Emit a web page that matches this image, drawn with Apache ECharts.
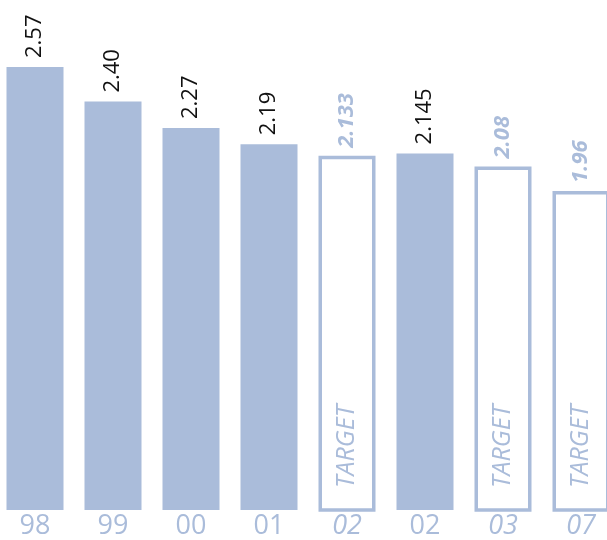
<!DOCTYPE html>
<html>
<head>
<meta charset="utf-8">
<script src="https://cdn.jsdelivr.net/npm/echarts@6/dist/echarts.min.js"></script>
<style>
  html, body { margin: 0; padding: 0; background: #fff; }
  #chart { width: 607px; height: 540px; }
</style>
</head>
<body>
<div id="chart"></div>
<script>
// Year labels along the bottom; "02" appears twice (target and actual)
const categories = ['98', '99', '00', '01', '02', '02', '03', '07'];
// Actual values (null where the column is a target)
const actualValues = [2.57, 2.40, 2.27, 2.19, null, 2.145, null, null];
// Target values (null where the column is an actual)
const targetValues = [null, null, null, null, 2.133, null, 2.08, 1.96];
// Printed value text, kept as written
const valueText = ['2.57', '2.40', '2.27', '2.19', '2.133', '2.145', '2.08', '1.96'];
const isTarget = [false, false, false, false, true, false, true, true];

const BLUE = '#aabcda';
const FONT = '"Open Sans", "Noto Sans", sans-serif';

const chart = echarts.init(document.getElementById('chart'), null, { renderer: 'canvas' });

chart.setOption({
  animation: false,
  // the last column runs past the right edge
  grid: { left: -4, width: 624, top: 0, height: 510, containLabel: false, outerBoundsMode: 'none' },
  xAxis: {
    type: 'category',
    data: categories,
    axisLine: { show: false },
    axisTick: { show: false },
    axisLabel: {
      margin: 3,
      formatter: (v, i) => (isTarget[i] ? '{t|' + v + '}' : '{a|' + v + '}'),
      rich: {
        a: { fontFamily: FONT, fontSize: 27, color: BLUE },
        t: { fontFamily: FONT, fontSize: 27, color: BLUE, fontStyle: 'italic' }
      }
    }
  },
  yAxis: {
    type: 'value',
    min: 0.39,
    max: 2.9,
    show: false,
    splitLine: { show: false }
  },
  series: [
    {
      name: 'Actual',
      type: 'bar',
      data: actualValues,
      barWidth: 57,
      itemStyle: { color: BLUE },
      label: {
        show: true,
        position: 'top',
        distance: 9,
        rotate: 90,
        align: 'left',
        verticalAlign: 'middle',
        fontFamily: FONT,
        fontSize: 22,
        color: '#111',
        formatter: p => valueText[p.dataIndex]
      }
    },
    {
      name: 'Target',
      type: 'bar',
      data: targetValues,
      barWidth: 57,
      barGap: '-100%',
      itemStyle: { color: '#fff', borderColor: BLUE, borderWidth: 3.5 },
      label: {
        show: true,
        position: 'top',
        distance: 8,
        rotate: 90,
        align: 'left',
        verticalAlign: 'middle',
        fontFamily: FONT,
        fontSize: 22,
        fontWeight: 'bold',
        fontStyle: 'italic',
        color: BLUE,
        formatter: p => valueText[p.dataIndex]
      },
      z: 3
    },
    {
      // "TARGET" caption written up the inside of each target column
      name: 'Caption',
      type: 'bar',
      data: targetValues,
      barWidth: 57,
      barGap: '-100%',
      itemStyle: { color: 'transparent' },
      label: {
        show: true,
        position: 'insideBottom',
        distance: 22,
        rotate: 90,
        align: 'left',
        verticalAlign: 'middle',
        fontFamily: FONT,
        fontSize: 25,
        fontStyle: 'italic',
        color: BLUE,
        formatter: 'TARGET'
      },
      z: 4
    }
  ]
});
</script>
</body>
</html>
